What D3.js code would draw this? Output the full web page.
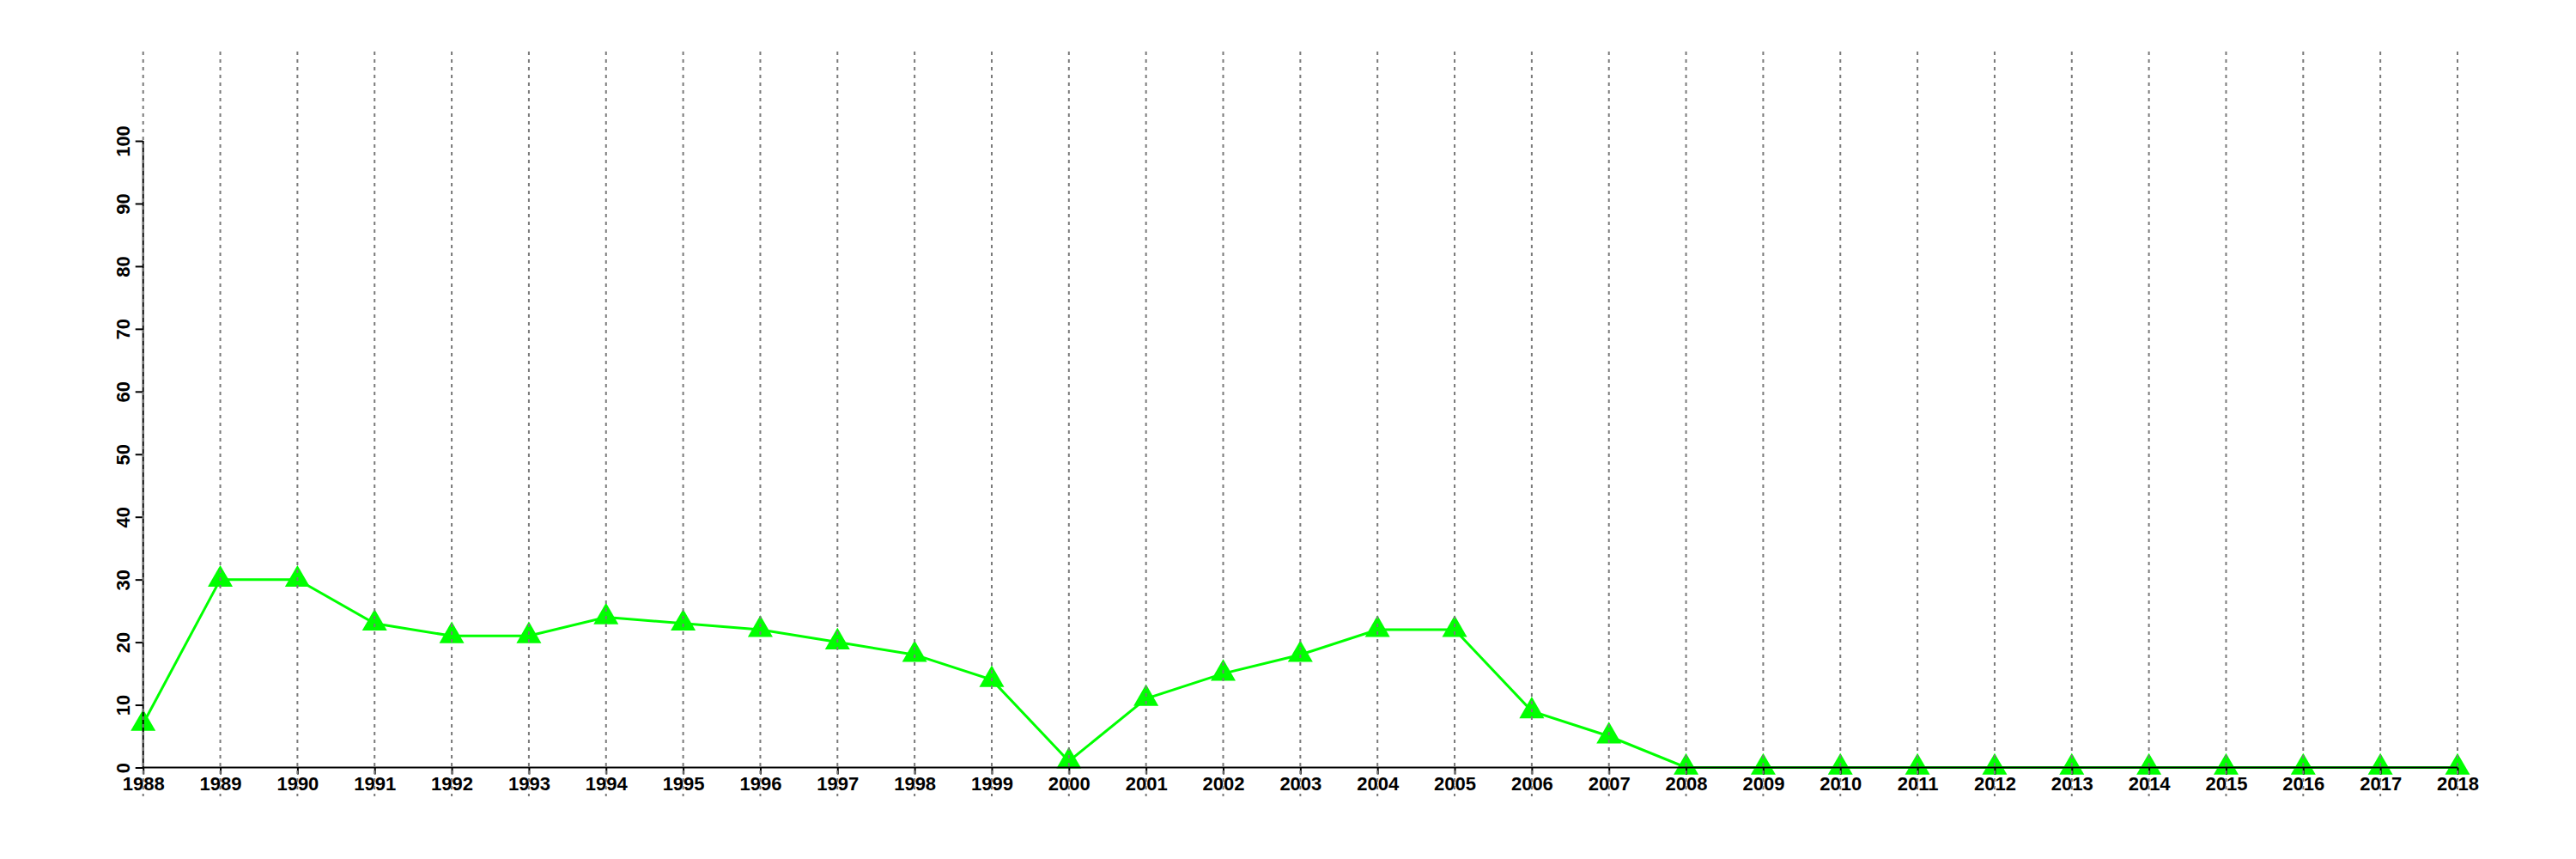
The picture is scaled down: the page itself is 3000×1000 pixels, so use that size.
<!DOCTYPE html>
<html>
<head>
<meta charset="utf-8">
<script src="https://cdn.jsdelivr.net/npm/d3@7"></script>
<style>
html,body{margin:0;padding:0;background:#fff;}
svg{display:block;}
</style>
</head>
<body>
<script>
const years = [1988,1989,1990,1991,1992,1993,1994,1995,1996,1997,1998,1999,2000,2001,2002,2003,2004,2005,2006,2007,2008,2009,2010,2011,2012,2013,2014,2015,2016,2017,2018];
const values = [7,30,30,23,21,21,24,23,22,20,18,14,1,11,15,18,22,22,9,5,0,0,0,0,0,0,0,0,0,0,0];
const yTicks = [0,10,20,30,40,50,60,70,80,90,100];

const W = 3000, H = 1000;
const svg = d3.select("body").append("svg").attr("width", W).attr("height", H);

const x = d3.scaleLinear().domain([1988, 2018]).range([166.7, 2862]);
const y = d3.scaleLinear().domain([0, 100]).range([893.5, 164]);

const font = "'Liberation Sans', Arial, Helvetica, sans-serif";

// line
const data = years.map((yr, i) => ({yr, v: values[i]}));
svg.append("path")
  .datum(data)
  .attr("fill", "none")
  .attr("stroke", "#00ff00")
  .attr("stroke-width", 3)
  .attr("d", d3.line().x(d => x(d.yr)).y(d => y(d.v)));

// triangles (centroid at data point)
const xc = 10.77;
const r = 1.5551 * xc, yc = 0.7776 * xc, hx = 1.3468 * xc;
svg.append("g").selectAll("path").data(data).join("path")
  .attr("fill", "#00ff00")
  .attr("d", d => {
    const px = x(d.yr), py = y(d.v);
    return `M${px},${py - r}L${px + hx},${py + yc}L${px - hx},${py + yc}Z`;
  });

// x axis
const xAxis = svg.append("g").attr("transform", `translate(0,${y(0)})`)
  .call(d3.axisBottom(x).tickValues(years).tickFormat(d3.format("d")).tickSize(8).tickPadding(4));
xAxis.select(".domain").attr("stroke", "#000").attr("stroke-width", 2).attr("d", `M${x(1988)},0H${x(2018)}`);
xAxis.selectAll(".tick line").attr("stroke", "#000").attr("stroke-width", 2);
xAxis.selectAll(".tick text")
  .attr("font-family", font).attr("font-weight", "bold").attr("font-size", 22)
  .attr("fill", "#000").attr("dy", null).attr("y", 26);

// y axis
const yAxis = svg.append("g").attr("transform", `translate(${x(1988)},0)`)
  .call(d3.axisLeft(y).tickValues(yTicks).tickSize(9));
yAxis.select(".domain").attr("stroke", "#000").attr("stroke-width", 2).attr("d", `M0,${y(0)}V${y(100)}`);
yAxis.selectAll(".tick line").attr("stroke", "#000").attr("stroke-width", 2);
yAxis.selectAll(".tick text")
  .attr("font-family", font).attr("font-weight", "bold").attr("font-size", 22)
  .attr("fill", "#000")
  .attr("x", null).attr("dy", null)
  .attr("text-anchor", "middle")
  .attr("transform", "translate(-16,0) rotate(-90)");

// dotted vertical grid lines (drawn on top)
svg.append("g").selectAll("line").data(years).join("line")
  .attr("x1", d => x(d)).attr("x2", d => x(d))
  .attr("y1", 60).attr("y2", 927)
  .attr("stroke", "#7a7a7a")
  .attr("stroke-width", 2)
  .attr("stroke-dasharray", "4,5");
</script>
</body>
</html>
